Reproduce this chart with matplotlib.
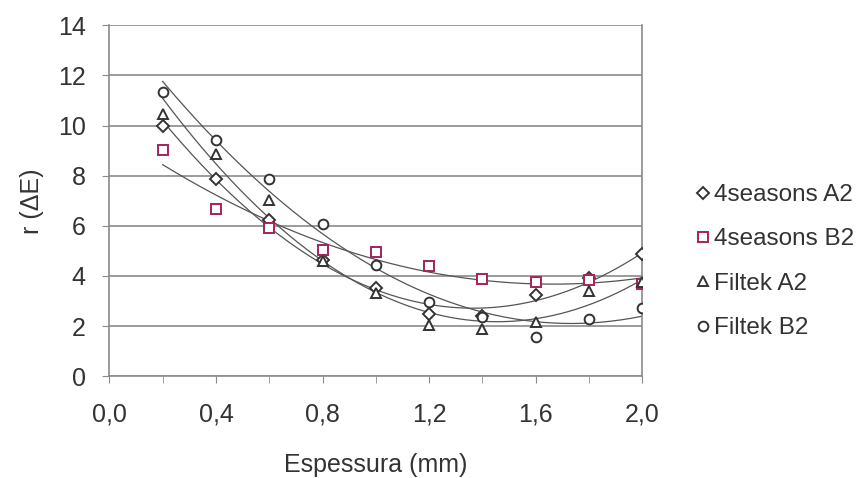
import matplotlib
matplotlib.use('Agg')
import matplotlib.pyplot as plt
import numpy as np
from matplotlib.ticker import MultipleLocator, FuncFormatter

plt.rcParams['font.family'] = ['Liberation Sans', 'DejaVu Sans']

# espessura (mm)
x = [0.2, 0.4, 0.6, 0.8, 1.0, 1.2, 1.4, 1.6, 1.8, 2.0]

# r(dE)
seasons_a2 = [10.0, 7.85, 6.25, 4.65, 3.5, 2.5, 2.4, 3.25, 3.9, 4.87]
seasons_b2 = [9.02, 6.69, 5.9, 5.05, 4.95, 4.4, 3.86, 3.76, 3.84, 3.68]
filtek_a2 = [10.48, 8.86, 7.05, 4.6, 3.3, 2.05, 1.9, 2.17, 3.38, 3.76]
filtek_b2 = [11.34, 9.44, 7.85, 6.09, 4.43, 2.96, 2.38, 1.57, 2.28, 2.72]

series = [
    ('4seasons A2', seasons_a2, 'D', '#333333', 6),
    ('4seasons B2', seasons_b2, 's', '#a3245a', 7),
    ('Filtek A2', filtek_a2, '^', '#333333', 7.5),
    ('Filtek B2', filtek_b2, 'o', '#333333', 7),
]

fig = plt.figure(figsize=(8.61, 4.78), dpi=100)
ax = fig.add_axes([0.127, 0.213, 0.619, 0.734])

xs = np.linspace(0.2, 2.0, 200)
for label, y, mk, col, ms in series:
    # linha de tendencia polinomial (ordem 2)
    c = np.polyfit(x, y, 2)
    ax.plot(xs, np.polyval(c, xs), color='#555555', lw=0.9, zorder=2)
    ax.plot(x, y, linestyle='none', marker=mk, ms=ms, mfc='white',
            mec=col, mew=1.4, label=label, zorder=3)

ax.set_xlim(0, 2.0)
ax.set_ylim(0, 14)
ax.yaxis.set_major_locator(MultipleLocator(2))
ax.xaxis.set_major_locator(MultipleLocator(0.4))
ax.xaxis.set_minor_locator(MultipleLocator(0.2))
ax.xaxis.set_major_formatter(FuncFormatter(lambda v, p: ('%.1f' % v).replace('.', ',')))
ax.grid(axis='y', color='#8a8a8a', lw=1.2)
ax.set_axisbelow(True)
for s in ax.spines.values():
    s.set_color('#8a8a8a')
    s.set_linewidth(1.2)
ax.spines['top'].set_visible(False)
ax.tick_params(which='both', direction='out', length=5, color='#8a8a8a',
               labelsize=18, labelcolor='#333333')
ax.tick_params(axis='x', pad=14)
ax.tick_params(axis='y', pad=12)

ax.set_xlabel('Espessura (mm)', fontsize=18, color='#333333', labelpad=19)
ax.set_ylabel('r (ΔE)', fontsize=18, color='#333333', labelpad=10)

fig.legend(loc='upper left', bbox_to_anchor=(0.809, 0.615), frameon=False,
           fontsize=17.5, handlelength=0.5, handletextpad=0.2,
           borderpad=0, borderaxespad=0,
           labelspacing=0.92, labelcolor='#333333')

fig.savefig('out.png', dpi=100)
